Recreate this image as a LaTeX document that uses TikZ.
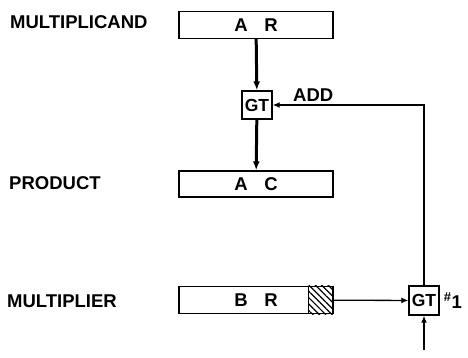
\documentclass[tikz,border=0pt]{standalone}
\usepackage{fontspec}
\setmainfont{Liberation Sans}
\usetikzlibrary{arrows.meta,positioning,patterns.meta}

\begin{document}
\begin{tikzpicture}[x=1pt, y=1pt,
    font=\bfseries\fontsize{18.5}{22}\selectfont,
    reg/.style={draw, line width=1.4pt, minimum width=154pt, minimum height=27pt, inner sep=0pt},
    gate/.style={draw, line width=1.4pt, minimum width=30pt, minimum height=28pt, inner sep=0pt},
    lbl/.style={anchor=west, inner sep=0pt}]
    \useasboundingbox (0,0) rectangle (468,358);
    % registers
    \node[reg] (ar) at (256,333) {A\hspace{0.9em}R};
    \node[reg, minimum height=26pt] (ac) at (256,174) {A\hspace{0.9em}C};
    \node[reg] (br) at (256,58) {B\hspace{0.9em}R};
    \fill[pattern={Lines[angle=-45, distance=4.5pt, line width=1.2pt]}] ([xshift=-25pt]br.north east) rectangle (br.south east);
    \draw[line width=1.4pt] ([xshift=-25pt]br.north east) -- ([xshift=-25pt]br.south east);
    % gates
    \node[gate, font=\bfseries\fontsize{17.5}{20}\selectfont] (gtadd) at (257,253) {GT};
    \node[gate, minimum height=29pt, font=\bfseries\fontsize{17.5}{20}\selectfont] (gtone) at (424,57.5) {GT};
    \coordinate (trig) at (424,8);
    % labels
    \node[lbl] (mcand) at (10,336) {MULTIPLICAND};
    \node[lbl] (prod) at (9,175) {PRODUCT};
    \node[lbl] (mplier) at (7,57) {MULTIPLIER};
    \node[lbl, anchor=south west] (add) at (293,256) {ADD};
    \node[lbl, right=4pt of gtone] (one) {\textsuperscript{\#}1};
    % connectors
    \draw[-{Latex[length=9pt, width=7pt]}, line width=3pt] (ar) -- (gtadd);
    \draw[-{Latex[length=9pt, width=7pt]}, line width=3pt] (gtadd) -- (ac);
    \draw[-{Latex[length=7pt, width=6pt]}, line width=1.3pt] (gtone.north) |- (gtadd.east);
    \draw[-{Latex[length=7pt, width=6pt]}, line width=1.3pt] (br) -- (gtone);
    \draw[-{Latex[length=7pt, width=6pt]}, line width=1.3pt] (trig) -- (gtone);
  \end{tikzpicture}
\end{document}
